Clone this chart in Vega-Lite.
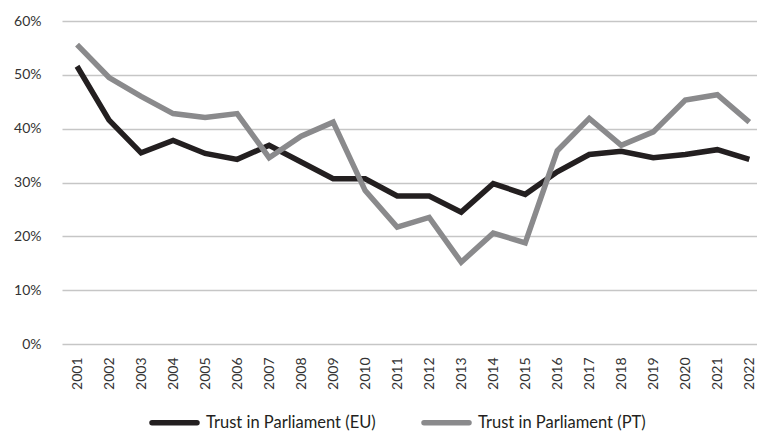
{
  "$schema": "https://vega.github.io/schema/vega-lite/v6.json",
  "width": 695,
  "height": 323,
  "autosize": {"type": "none"},
  "padding": {"left": 62, "top": 21, "right": 0, "bottom": 90},
  "background": "white",
  "config": {
    "view": {"stroke": null},
    "font": "Lato",
    "axis": {"labelFont": "Lato", "labelFontSize": 14, "labelColor": "#333333"}
  },
  "data": {
    "values": [
      {"year": 2001, "series": "Trust in Parliament (EU)", "value": 51.6},
      {"year": 2002, "series": "Trust in Parliament (EU)", "value": 41.6},
      {"year": 2003, "series": "Trust in Parliament (EU)", "value": 35.5},
      {"year": 2004, "series": "Trust in Parliament (EU)", "value": 37.8},
      {"year": 2005, "series": "Trust in Parliament (EU)", "value": 35.4},
      {"year": 2006, "series": "Trust in Parliament (EU)", "value": 34.3},
      {"year": 2007, "series": "Trust in Parliament (EU)", "value": 36.9},
      {"year": 2008, "series": "Trust in Parliament (EU)", "value": 33.8},
      {"year": 2009, "series": "Trust in Parliament (EU)", "value": 30.7},
      {"year": 2010, "series": "Trust in Parliament (EU)", "value": 30.7},
      {"year": 2011, "series": "Trust in Parliament (EU)", "value": 27.5},
      {"year": 2012, "series": "Trust in Parliament (EU)", "value": 27.5},
      {"year": 2013, "series": "Trust in Parliament (EU)", "value": 24.5},
      {"year": 2014, "series": "Trust in Parliament (EU)", "value": 29.8},
      {"year": 2015, "series": "Trust in Parliament (EU)", "value": 27.8},
      {"year": 2016, "series": "Trust in Parliament (EU)", "value": 32.0},
      {"year": 2017, "series": "Trust in Parliament (EU)", "value": 35.2},
      {"year": 2018, "series": "Trust in Parliament (EU)", "value": 35.8},
      {"year": 2019, "series": "Trust in Parliament (EU)", "value": 34.6},
      {"year": 2020, "series": "Trust in Parliament (EU)", "value": 35.2},
      {"year": 2021, "series": "Trust in Parliament (EU)", "value": 36.1},
      {"year": 2022, "series": "Trust in Parliament (EU)", "value": 34.3},
      {"year": 2001, "series": "Trust in Parliament (PT)", "value": 55.6},
      {"year": 2002, "series": "Trust in Parliament (PT)", "value": 49.5},
      {"year": 2003, "series": "Trust in Parliament (PT)", "value": 46.0},
      {"year": 2004, "series": "Trust in Parliament (PT)", "value": 42.8},
      {"year": 2005, "series": "Trust in Parliament (PT)", "value": 42.1},
      {"year": 2006, "series": "Trust in Parliament (PT)", "value": 42.8},
      {"year": 2007, "series": "Trust in Parliament (PT)", "value": 34.6},
      {"year": 2008, "series": "Trust in Parliament (PT)", "value": 38.6},
      {"year": 2009, "series": "Trust in Parliament (PT)", "value": 41.2},
      {"year": 2010, "series": "Trust in Parliament (PT)", "value": 28.5},
      {"year": 2011, "series": "Trust in Parliament (PT)", "value": 21.7},
      {"year": 2012, "series": "Trust in Parliament (PT)", "value": 23.5},
      {"year": 2013, "series": "Trust in Parliament (PT)", "value": 15.2},
      {"year": 2014, "series": "Trust in Parliament (PT)", "value": 20.6},
      {"year": 2015, "series": "Trust in Parliament (PT)", "value": 18.8},
      {"year": 2016, "series": "Trust in Parliament (PT)", "value": 35.9},
      {"year": 2017, "series": "Trust in Parliament (PT)", "value": 41.9},
      {"year": 2018, "series": "Trust in Parliament (PT)", "value": 36.9},
      {"year": 2019, "series": "Trust in Parliament (PT)", "value": 39.4},
      {"year": 2020, "series": "Trust in Parliament (PT)", "value": 45.3},
      {"year": 2021, "series": "Trust in Parliament (PT)", "value": 46.3},
      {"year": 2022, "series": "Trust in Parliament (PT)", "value": 41.2}
    ]
  },
  "mark": {"type": "line", "strokeWidth": 5.5, "strokeJoin": "miter", "strokeCap": "butt", "clip": false},
  "encoding": {
    "x": {
      "field": "year",
      "type": "quantitative",
      "scale": {"domain": [2000.53, 2022.24], "nice": false, "zero": false},
      "axis": {
        "values": [2001,2002,2003,2004,2005,2006,2007,2008,2009,2010,2011,2012,2013,2014,2015,2016,2017,2018,2019,2020,2021,2022],
        "format": "d",
        "labelAngle": -90,
        "labelAlign": "right",
        "labelBaseline": "middle",
        "labelPadding": 13,
        "ticks": false,
        "domain": false,
        "grid": false,
        "title": null,
        "labelFlush": false,
        "labelOverlap": false
      }
    },
    "y": {
      "field": "value",
      "type": "quantitative",
      "scale": {"domain": [0, 60], "nice": false},
      "axis": {
        "values": [0, 10, 20, 30, 40, 50, 60],
        "labelExpr": "datum.value + '%'",
        "ticks": false,
        "domain": false,
        "grid": true,
        "gridColor": "#c6c6c6",
        "gridWidth": 1.3,
        "labelPadding": 21,
        "title": null
      }
    },
    "color": {
      "field": "series",
      "type": "nominal",
      "scale": {"domain": ["Trust in Parliament (EU)", "Trust in Parliament (PT)"], "range": ["#231f20", "#8a8a8c"]},
      "legend": {
        "orient": "none",
        "direction": "horizontal",
        "legendX": 87,
        "legendY": 376,
        "title": null,
        "symbolType": "stroke",
        "symbolSize": 2025,
        "symbolStrokeWidth": 5.5,
        "labelFont": "Lato",
        "labelFontSize": 16.5,
        "labelLimit": 400,
        "labelColor": "#231f20",
        "labelOffset": 6,
        "columnPadding": 37,
        "encode": {"symbols": {"update": {"strokeCap": {"value": "round"}}}}
      }
    }
  }
}
